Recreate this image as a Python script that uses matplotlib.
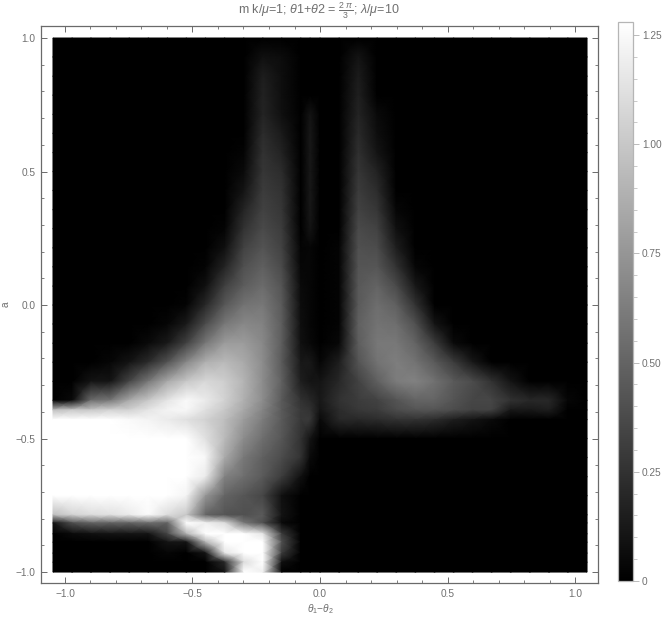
import matplotlib
matplotlib.use('Agg')
import numpy as np
import matplotlib.pyplot as plt
from matplotlib.ticker import FixedLocator, FixedFormatter, MultipleLocator

plt.rcParams['font.family'] = ['Liberation Sans', 'DejaVu Sans']
plt.rcParams['mathtext.fontset'] = 'custom'
plt.rcParams['mathtext.rm'] = 'Liberation Sans'
plt.rcParams['mathtext.it'] = 'Liberation Sans:italic'

theta_diff = [-1.047, -0.972, -0.898, -0.823, -0.748, -0.673, -0.598, -0.524, -0.449, -0.374,
              -0.299, -0.224, -0.150, -0.075, -0.039, 0.0, 0.075, 0.150, 0.224, 0.299, 0.374,
              0.449, 0.524, 0.598, 0.673, 0.748, 0.823, 0.898, 0.972, 1.047]
a_values = [1.0, 0.929, 0.857, 0.786, 0.714, 0.643, 0.571, 0.5, 0.429, 0.357,
            0.286, 0.214, 0.143, 0.071, 0.0, -0.071, -0.143, -0.214, -0.286, -0.357,
            -0.393, -0.429, -0.5, -0.571, -0.643, -0.714, -0.786, -0.816, -0.857, -0.888,
            -0.929, -0.963, -1.0]
# density, in hundredths, one row per a value
density = [
    [0, 0, 0, 0, 0, 0, 0, 0, 0, 0, 0, 0, 0, 0, 0, 0, 0, 0, 0, 0, 0, 0, 0, 0, 0, 0, 0, 0, 0, 0],
    [0, 0, 0, 0, 0, 0, 0, 0, 0, 0, 0, 8, 6, 0, 0, 0, 0, 10, 0, 0, 0, 0, 0, 0, 0, 0, 0, 0, 0, 0],
    [0, 0, 0, 0, 0, 0, 0, 0, 0, 0, 0, 15, 7, 0, 0, 0, 0, 14, 0, 0, 0, 0, 0, 0, 0, 0, 0, 0, 0, 0],
    [0, 0, 0, 0, 0, 0, 0, 0, 0, 0, 0, 17, 7, 0, 0, 0, 0, 16, 0, 0, 0, 0, 0, 0, 0, 0, 0, 0, 0, 0],
    [0, 0, 0, 0, 0, 0, 0, 0, 0, 0, 0, 18, 8, 0, 10, 0, 0, 18, 5, 0, 0, 0, 0, 0, 0, 0, 0, 0, 0, 0],
    [0, 0, 0, 0, 0, 0, 0, 0, 0, 0, 0, 22, 13, 0, 12, 0, 0, 21, 7, 0, 0, 0, 0, 0, 0, 0, 0, 0, 0, 0],
    [0, 0, 0, 0, 0, 0, 0, 0, 0, 0, 2, 25, 17, 0, 12, 0, 0, 24, 10, 0, 0, 0, 0, 0, 0, 0, 0, 0, 0, 0],
    [0, 0, 0, 0, 0, 0, 0, 0, 0, 0, 5, 27, 22, 0, 12, 0, 0, 27, 17, 0, 0, 0, 0, 0, 0, 0, 0, 0, 0, 0],
    [0, 0, 0, 0, 0, 0, 0, 0, 0, 0, 10, 30, 25, 0, 12, 0, 0, 30, 22, 0, 0, 0, 0, 0, 0, 0, 0, 0, 0, 0],
    [0, 0, 0, 0, 0, 0, 0, 0, 0, 0, 18, 33, 27, 0, 12, 0, 0, 33, 27, 3, 0, 0, 0, 0, 0, 0, 0, 0, 0, 0],
    [0, 0, 0, 0, 0, 0, 0, 0, 0, 2, 25, 37, 30, 0, 10, 0, 0, 37, 33, 8, 0, 0, 0, 0, 0, 0, 0, 0, 0, 0],
    [0, 0, 0, 0, 0, 0, 0, 0, 0, 8, 33, 42, 33, 2, 3, 0, 2, 40, 38, 15, 0, 0, 0, 0, 0, 0, 0, 0, 0, 0],
    [0, 0, 0, 0, 0, 0, 0, 0, 2, 18, 40, 48, 37, 3, 3, 0, 2, 42, 43, 25, 3, 0, 0, 0, 0, 0, 0, 0, 0, 0],
    [0, 0, 0, 0, 0, 0, 0, 0, 8, 32, 47, 54, 42, 5, 3, 0, 2, 44, 50, 37, 12, 0, 0, 0, 0, 0, 0, 0, 0, 0],
    [0, 0, 0, 0, 0, 0, 0, 2, 20, 44, 58, 60, 45, 6, 3, 0, 2, 45, 55, 48, 25, 0, 0, 0, 0, 0, 0, 0, 0, 0],
    [0, 0, 0, 0, 0, 0, 3, 13, 38, 60, 68, 65, 47, 7, 3, 0, 2, 48, 58, 55, 40, 10, 0, 0, 0, 0, 0, 0, 0, 0],
    [0, 0, 0, 0, 0, 5, 13, 33, 60, 78, 78, 68, 47, 8, 4, 0, 4, 47, 60, 60, 50, 30, 5, 0, 0, 0, 0, 0, 0, 0],
    [0, 0, 0, 3, 10, 22, 42, 68, 88, 93, 85, 70, 45, 12, 12, 3, 15, 42, 58, 63, 58, 45, 30, 12, 0, 0, 0, 0, 0, 0],
    [0, 0, 10, 10, 35, 60, 85, 100, 108, 103, 90, 70, 48, 15, 10, 10, 20, 33, 48, 62, 65, 57, 45, 38, 25, 10, 0, 0, 0, 0],
    [0, 5, 55, 60, 85, 100, 115, 125, 118, 105, 88, 70, 45, 25, 20, 12, 25, 30, 33, 42, 50, 50, 42, 35, 35, 25, 20, 20, 3, 0],
    [95, 100, 100, 105, 105, 115, 122, 124, 112, 100, 84, 66, 45, 28, 25, 10, 22, 28, 30, 38, 42, 42, 38, 33, 33, 12, 12, 15, 0, 0],
    [128, 128, 128, 128, 125, 122, 118, 112, 105, 95, 78, 62, 45, 28, 28, 5, 20, 20, 22, 25, 25, 22, 15, 10, 5, 0, 0, 0, 0, 0],
    [128, 128, 128, 128, 128, 128, 128, 128, 113, 93, 70, 55, 43, 25, 10, 0, 0, 0, 0, 0, 0, 0, 0, 0, 0, 0, 0, 0, 0, 0],
    [128, 128, 128, 128, 128, 128, 128, 128, 124, 85, 60, 48, 38, 25, 5, 0, 0, 0, 0, 0, 0, 0, 0, 0, 0, 0, 0, 0, 0, 0],
    [128, 128, 128, 128, 128, 128, 128, 128, 118, 65, 55, 45, 30, 8, 0, 0, 0, 0, 0, 0, 0, 0, 0, 0, 0, 0, 0, 0, 0, 0],
    [128, 128, 128, 128, 128, 128, 128, 122, 75, 50, 43, 35, 8, 0, 0, 0, 0, 0, 0, 0, 0, 0, 0, 0, 0, 0, 0, 0, 0, 0],
    [95, 105, 110, 112, 118, 125, 110, 100, 50, 42, 40, 45, 10, 0, 0, 0, 0, 0, 0, 0, 0, 0, 0, 0, 0, 0, 0, 0, 0, 0],
    [10, 40, 50, 50, 50, 55, 50, 128, 120, 110, 60, 40, 5, 0, 0, 0, 0, 0, 0, 0, 0, 0, 0, 0, 0, 0, 0, 0, 0, 0],
    [0, 5, 8, 10, 10, 10, 35, 90, 128, 128, 128, 115, 30, 0, 0, 0, 0, 0, 0, 0, 0, 0, 0, 0, 0, 0, 0, 0, 0, 0],
    [0, 0, 0, 0, 0, 0, 10, 10, 90, 128, 128, 128, 40, 0, 0, 0, 0, 0, 0, 0, 0, 0, 0, 0, 0, 0, 0, 0, 0, 0],
    [0, 0, 0, 0, 0, 0, 3, 0, 10, 115, 128, 128, 30, 0, 0, 0, 0, 0, 0, 0, 0, 0, 0, 0, 0, 0, 0, 0, 0, 0],
    [0, 0, 0, 0, 0, 0, 0, 0, 0, 20, 110, 128, 8, 0, 0, 0, 0, 0, 0, 0, 0, 0, 0, 0, 0, 0, 0, 0, 0, 0],
    [0, 0, 0, 0, 0, 0, 0, 0, 0, 10, 128, 120, 0, 0, 0, 0, 0, 0, 0, 0, 0, 0, 0, 0, 0, 0, 0, 0, 0, 0],
]
x_major = [-1.0, -0.5, 0.0, 0.5, 1.0]
x_labels = ['\u22121.0', '\u22120.5', '0.0', '0.5', '1.0']
y_major = [-1.0, -0.5, 0.0, 0.5, 1.0]
y_labels = ['\u22121.0', '\u22120.5', '0.0', '0.5', '1.0']
cbar_ticks = [0, 0.25, 0.5, 0.75, 1.0, 1.25]
cbar_labels = ['0', '0.25', '0.50', '0.75', '1.00', '1.25']

W, H = 665, 621
TEXT = '#707070'
FRAME = '#6a6a6a'

fig = plt.figure(figsize=(W / 100, H / 100), dpi=100)
ax = fig.add_axes([41 / W, 1 - 583 / H, 557 / W, 557 / H])
mesh = ax.pcolormesh(theta_diff, a_values, np.array(density) / 100, cmap='gray',
                     vmin=0, vmax=1.28, shading='gouraud', rasterized=True)
ax.set_xlim(-1.094, 1.090)
ax.set_ylim(-1.041, 1.045)

ax.xaxis.set_major_locator(FixedLocator(x_major))
ax.xaxis.set_major_formatter(FixedFormatter(x_labels))
ax.yaxis.set_major_locator(FixedLocator(y_major))
ax.yaxis.set_major_formatter(FixedFormatter(y_labels))
ax.xaxis.set_minor_locator(MultipleLocator(0.1))
ax.yaxis.set_minor_locator(MultipleLocator(0.1))
ax.tick_params(which='major', direction='in', length=4, width=0.7, color=FRAME, top=True, right=True,
               labelsize=7.3, labelcolor=TEXT, pad=4)
ax.tick_params(which='minor', direction='in', length=2, width=0.6, color=FRAME, top=True, right=True)
for s in ax.spines.values():
    s.set_color(FRAME)
    s.set_linewidth(0.9)

fig.text(320 / W, 1 - 609 / H, '$\\mathit{\\theta}_{1}$\u2212$\\mathit{\\theta}_{2}$',
         ha='center', va='center', fontsize=7.3, color=TEXT)
fig.text(6 / W, 1 - 304 / H, 'a', rotation=90, ha='center', va='center', fontsize=7.3, color=TEXT)
fig.text(319 / W, 1 - 11 / H,
         r'm k/$\mathit{\mu}$=1; $\mathit{\theta}$1+$\mathit{\theta}$2 = $\frac{2\ \pi}{3}$; $\mathit{\lambda}$/$\mathit{\mu}$=10',
         ha='center', va='center', fontsize=9, color=TEXT)

cax = fig.add_axes([618 / W, 1 - 581 / H, 15 / W, 559 / H])
cb = fig.colorbar(mesh, cax=cax)
cb.set_ticks(cbar_ticks)
cb.set_ticklabels(cbar_labels)
cax.yaxis.set_minor_locator(MultipleLocator(0.05))
cax.tick_params(which='major', length=4.5, width=0.6, color='#b0b0b0', labelsize=7.3, labelcolor=TEXT, pad=2)
cax.tick_params(which='minor', length=3, width=0.6, color='#c0c0c0')
cb.outline.set_edgecolor('#b5b5b5')
cb.outline.set_linewidth(0.9)

fig.savefig('out.png', dpi=100)
